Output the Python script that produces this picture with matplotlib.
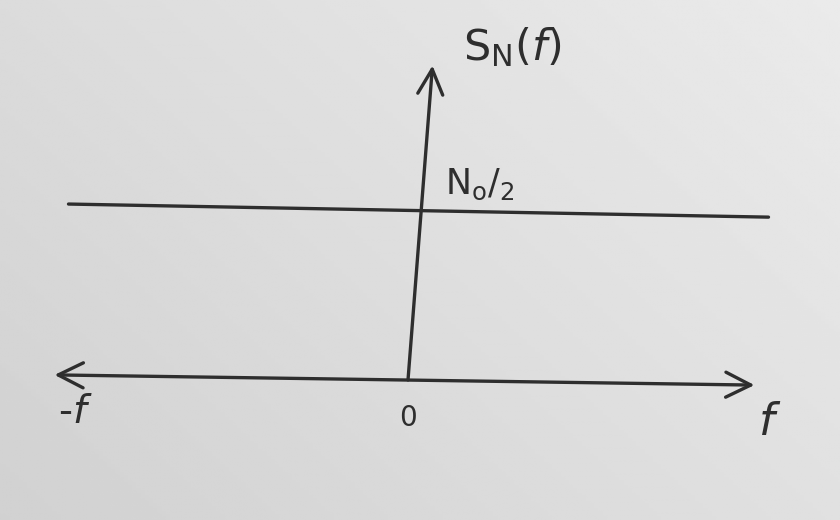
import numpy as np
import matplotlib
matplotlib.use("Agg")
import matplotlib.pyplot as plt

# hand sketch of white noise power spectral density, S_N(f) = N0/2
# units: f in "sketch" units (0 at the vertical axis), S in units of N0/2
f_axis_f = [-1.01, 0.99]      # horizontal f axis, left and right ends
f_axis_s = [0.03, -0.03]
s_axis_f = [0.0, 0.07]        # vertical S_N(f) axis, bottom and top
s_axis_s = [0.0, 1.85]
psd_f = [-0.97, 1.03]         # flat level N0/2
psd_s = [1.035, 0.958]

ylabel = 'S$_\\mathsf{N}$($f$)'
level_label = 'N$_\\mathsf{o}$/$_\\mathsf{2}$'
tick_labels = ['-$f$', '0', '$f$']

ink = '#2e2e2e'

fig = plt.figure(figsize=(8.4, 5.2), dpi=100)
ax = fig.add_axes([0, 0, 1, 1])
ax.set_xlim(-408 / 350, 432 / 350)
ax.set_ylim(-140 / 170, 380 / 170)
ax.axis('off')

# paper background, slightly darker to the bottom left like the photo
gx, gy = np.meshgrid(np.linspace(0, 1, 200), np.linspace(0, 1, 200))
shade = 0.82 + 0.10 * (0.6 * gx + 0.4 * gy)
ax.imshow(shade, cmap='gray', vmin=0, vmax=1, origin='lower',
          extent=[0, 1, 0, 1], transform=ax.transAxes, aspect='auto', zorder=0)

# f axis, arrows both ways
ax.annotate('', xy=(f_axis_f[1], f_axis_s[1]), xytext=(f_axis_f[0], f_axis_s[0]),
            arrowprops=dict(arrowstyle='<->,head_length=0.9,head_width=0.45',
                            color=ink, lw=2.4, shrinkA=0, shrinkB=0,
                            mutation_scale=20), zorder=3)
# vertical axis
ax.annotate('', xy=(s_axis_f[1], s_axis_s[1]), xytext=(s_axis_f[0], s_axis_s[0]),
            arrowprops=dict(arrowstyle='->,head_length=0.9,head_width=0.45',
                            color=ink, lw=2.4, shrinkA=0, shrinkB=0,
                            mutation_scale=20), zorder=3)

# flat PSD
ax.plot(psd_f, psd_s, color=ink, lw=2.4, solid_capstyle='round', zorder=3)

ax.text(0.157, 1.96, ylabel, fontsize=31, color=ink, ha='left', va='center')
ax.text(0.106, 1.15, level_label, fontsize=25, color=ink, ha='left', va='center')
ax.text(-0.95, -0.19, tick_labels[0], fontsize=28, color=ink, ha='center', va='center')
ax.text(0.0, -0.225, tick_labels[1], fontsize=20, color=ink, ha='center', va='center')
ax.text(1.034, -0.25, tick_labels[2], fontsize=32, color=ink, ha='center', va='center')

fig.savefig('out.png', dpi=100)
